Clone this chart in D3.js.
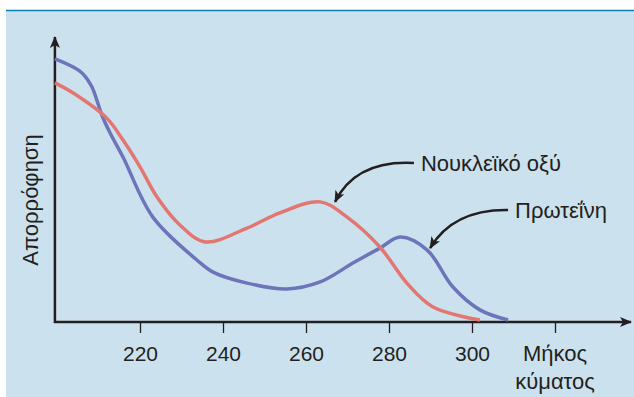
<!DOCTYPE html>
<html>
<head>
<meta charset="utf-8">
<script src="https://cdn.jsdelivr.net/npm/d3@7"></script>
<style>
  html, body { margin: 0; padding: 0; background: #fff; }
  svg { display: block; font-family: "Liberation Sans", Arial, sans-serif; }
</style>
</head>
<body>
<div id="chart"></div>
<script>
// wavelength (nm) / relative absorbance
const proteinWave = [199.5, 203.9, 206.3, 208.4, 209.6, 210.8, 212.8, 215.9, 223.1, 233.7, 237.6, 245.8, 255.4, 263.4, 271.3, 277.8, 282.7, 289.2, 295.4, 301.9, 308.7];
const proteinAbs  = [93.3, 90.4, 87.9, 83.4, 78.7, 73.4, 67.0, 58.5, 37.2, 22.0, 17.7, 13.8, 11.7, 14.2, 20.9, 26.2, 30.1, 25.5, 12.4, 4.3, 0.7];

const nucleicWave = [199.5, 203.9, 212.0, 215.9, 220.0, 224.1, 229.6, 235.7, 245.8, 253.7, 263.4, 269.9, 277.8, 284.3, 290.6, 301.9];
const nucleicAbs  = [84.8, 81.2, 72.3, 64.5, 55.0, 44.3, 34.4, 28.4, 33.3, 38.7, 42.6, 37.2, 26.6, 13.8, 5.3, 0.7];

const tickValues = [220, 240, 260, 280, 300, 320];
const tickLabels = ['220', '240', '260', '280', '300', ''];

const yLabel = 'Απορρόφηση';
const xLabelLines = ['Μήκος', 'κύματος'];

// annotation: label, where the arrow starts (text side) and where it points (on the curve)
const labels = ['Νουκλεϊκό οξύ', 'Πρωτεΐνη'];
const arrowFrom = [[286.0, 56.4], [308.7, 39.7]];
const arrowBend = [[272.0, 57.5], [295.5, 40.0]];
const arrowTo = [[267.0, 42.6], [289.9, 26.2]];

const width = 634;
const height = 397;

const svg = d3.select('#chart').append('svg')
  .attr('width', width)
  .attr('height', height);

// panel
svg.append('rect')
  .attr('x', 6).attr('y', 10)
  .attr('width', width - 6).attr('height', height - 10)
  .attr('fill', '#cbe2ee');
svg.append('line')
  .attr('x1', 6).attr('x2', width)
  .attr('y1', 10.5).attr('y2', 10.5)
  .attr('stroke', '#0a80b2').attr('stroke-width', 1.5);

const defs = svg.append('defs');
defs.append('marker')
  .attr('id', 'head')
  .attr('viewBox', '0 0 12 10')
  .attr('refX', 11).attr('refY', 5)
  .attr('markerWidth', 12).attr('markerHeight', 10)
  .attr('markerUnits', 'userSpaceOnUse')
  .attr('orient', 'auto')
  .append('path')
  .attr('d', 'M0,0 L12,5 L0,10 L3,5 Z')
  .attr('fill', '#231f20');

// scales
const x = d3.scaleLinear().domain([200, 300]).range([57, 472]);
const y = d3.scaleLinear().domain([0, 100]).range([322, 40]);

const x0 = x(199.5);
const y0 = y(0);

// axes lines with arrows
svg.append('line')
  .attr('x1', x0).attr('x2', x0)
  .attr('y1', y0 + 1).attr('y2', 37)
  .attr('stroke', '#231f20').attr('stroke-width', 2.5)
  .attr('marker-end', 'url(#head)');
svg.append('line')
  .attr('x1', x0 - 1).attr('x2', 631)
  .attr('y1', y0).attr('y2', y0)
  .attr('stroke', '#231f20').attr('stroke-width', 2.5)
  .attr('marker-end', 'url(#head)');

const xAxis = d3.axisBottom(x)
  .tickValues(tickValues)
  .tickFormat((d, i) => tickLabels[i])
  .tickSizeInner(11)
  .tickSizeOuter(0)
  .tickPadding(13.5);

const gx = svg.append('g')
  .attr('transform', `translate(0,${y0})`)
  .call(xAxis);
gx.select('.domain').remove();
gx.selectAll('.tick line').attr('stroke', '#231f20').attr('stroke-width', 1.3);
gx.selectAll('.tick text')
  .attr('fill', '#231f20')
  .style('font-size', '21px')
  .style('font-family', '"Liberation Sans", Arial, sans-serif');

// axis titles
svg.append('text')
  .attr('transform', 'translate(38,200) rotate(-90)')
  .attr('text-anchor', 'middle')
  .attr('fill', '#231f20')
  .style('font-size', '22px')
  .text(yLabel);

svg.append('text')
  .attr('y', 361)
  .attr('text-anchor', 'middle')
  .attr('fill', '#231f20')
  .style('font-size', '22px')
  .selectAll('tspan')
  .data(xLabelLines)
  .join('tspan')
  .attr('x', 555)
  .attr('dy', (d, i) => (i === 0 ? 0 : 28))
  .text((d) => d);

// curves
const line = d3.line()
  .x((d) => x(d[0]))
  .y((d) => y(d[1]))
  .curve(d3.curveCatmullRom.alpha(0.5));

const protein = proteinWave.map((w, i) => [w, proteinAbs[i]]);
const nucleic = nucleicWave.map((w, i) => [w, nucleicAbs[i]]);

svg.append('path')
  .datum(protein)
  .attr('d', line)
  .attr('fill', 'none')
  .attr('stroke', '#6d74ba')
  .attr('stroke-width', 3.5)
  .attr('stroke-linecap', 'butt');

svg.append('path')
  .datum(nucleic)
  .attr('d', line)
  .attr('fill', 'none')
  .attr('stroke', '#e37670')
  .attr('stroke-width', 3.5)
  .attr('stroke-linecap', 'butt');

// annotations
labels.forEach((label, i) => {
  const [fx, fy] = [x(arrowFrom[i][0]), y(arrowFrom[i][1])];
  const [cx, cy] = [x(arrowBend[i][0]), y(arrowBend[i][1])];
  const [tx, ty] = [x(arrowTo[i][0]), y(arrowTo[i][1])];
  const p = d3.path();
  p.moveTo(fx, fy);
  p.quadraticCurveTo(cx, cy, tx, ty);
  svg.append('path')
    .attr('d', p.toString())
    .attr('fill', 'none')
    .attr('stroke', '#231f20')
    .attr('stroke-width', 2.5)
    .attr('marker-end', 'url(#head)');
  svg.append('text')
    .attr('x', fx + 7)
    .attr('y', fy + 8)
    .attr('fill', '#231f20')
    .style('font-size', '22px')
    .text(label);
});
</script>
</body>
</html>
